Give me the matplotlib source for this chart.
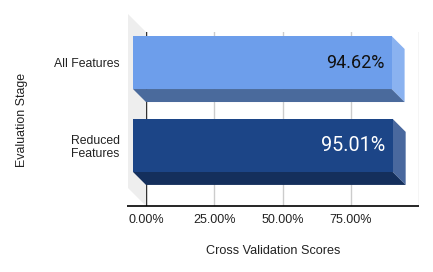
import matplotlib
matplotlib.use("Agg")
import matplotlib.pyplot as plt
from matplotlib.patches import Polygon

categories = ["All Features", "Reduced\nFeatures"]
scores = [94.62, 95.01]
score_labels = ["94.62%", "95.01%"]
xticks = [0, 25, 50, 75, 100]
xtick_labels = ["0.00%", "25.00%", "50.00%", "75.00%", ""]

face_colors = ["#6d9eeb", "#1c4587"]
side_colors = ["#8ab2f0", "#49689e"]
bottom_colors = ["#4a6a9c", "#142f5c"]
label_colors = ["#111111", "#ffffff"]
label_sizes = [13, 14.2]

W, H = 433, 272
L, R, T, B = 146, 419.3, 32, 206
SPX, SPY = 2.733, 82.9
DEPTH = 13
dx, dy = DEPTH / SPX, DEPTH / SPY

plt.rcParams["font.family"] = ["Liberation Sans", "DejaVu Sans"]
fig = plt.figure(figsize=(W / 100, H / 100), dpi=100)
ax = fig.add_axes([L / W, 1 - B / H, (R - L) / W, (B - T) / H])
ax.set_xlim(0, (R - L) / SPX)
ax.set_ylim((B - 62.5) / SPY, (T - 62.5) / SPY)
ax.set_axisbelow(True)

for s in ("top", "right", "left", "bottom"):
    ax.spines[s].set_visible(False)

ax.set_xticks(xticks, xtick_labels, fontsize=9, color="#222222")
ax.set_yticks(range(len(categories)), categories, fontsize=8.8, color="#222222", linespacing=1.16)
ax.tick_params(axis="x", length=0, pad=5.5)
ax.tick_params(axis="y", length=0, pad=19)
ax.grid(axis="x", color="#cccccc", lw=1)
ax.grid(axis="y", visible=False)

ymin, ymax = ax.get_ylim()
wall_dx = 18 / SPX
wall_dy = 18 / SPY
ax.add_patch(Polygon([(-wall_dx, ymax - wall_dy), (0, ymax), (0, ymin), (-wall_dx, ymin - wall_dy)],
                     closed=True, fc="#eeeeee", ec="none", clip_on=False, zorder=0.5))
ax.axvline(0, color="#333333", lw=1, zorder=1)
ax.plot([-19 / SPX, (R - L) / SPX], [ymin, ymin], color="black", lw=1.2, clip_on=False, zorder=2, solid_capstyle="butt")

half = 0.32
for i, (cat, v) in enumerate(zip(categories, scores)):
    right = v - dx
    top, bot = i - half, i + half
    ax.add_patch(Polygon([(right, top), (right + dx, top + dy), (right + dx, bot + dy), (right, bot)],
                         closed=True, fc=side_colors[i], ec="none", clip_on=False, zorder=3))
    ax.add_patch(Polygon([(-dx, bot), (right, bot), (right + dx, bot + dy), (0, bot + dy)],
                         closed=True, fc=bottom_colors[i], ec="none", clip_on=False, zorder=3))
    ax.barh(i, v, left=-dx, height=2 * half, color=face_colors[i], clip_on=False, zorder=4)
    ax.text(right - 7 / SPX, i - 1.5 / SPY, score_labels[i], ha="right", va="center_baseline", color=label_colors[i],
            fontsize=label_sizes[i], family=["Roboto", "DejaVu Sans"], zorder=5)

fig.text(272.7 / W, 1 - 250.7 / H, "Cross Validation Scores", ha="center", va="center", fontsize=9.1, color="#222222")
fig.text(22 / W, 1 - 120 / H, "Evaluation Stage", rotation=90, ha="center", va="center", fontsize=8.9, color="#222222")

fig.savefig("out.png", dpi=100)
